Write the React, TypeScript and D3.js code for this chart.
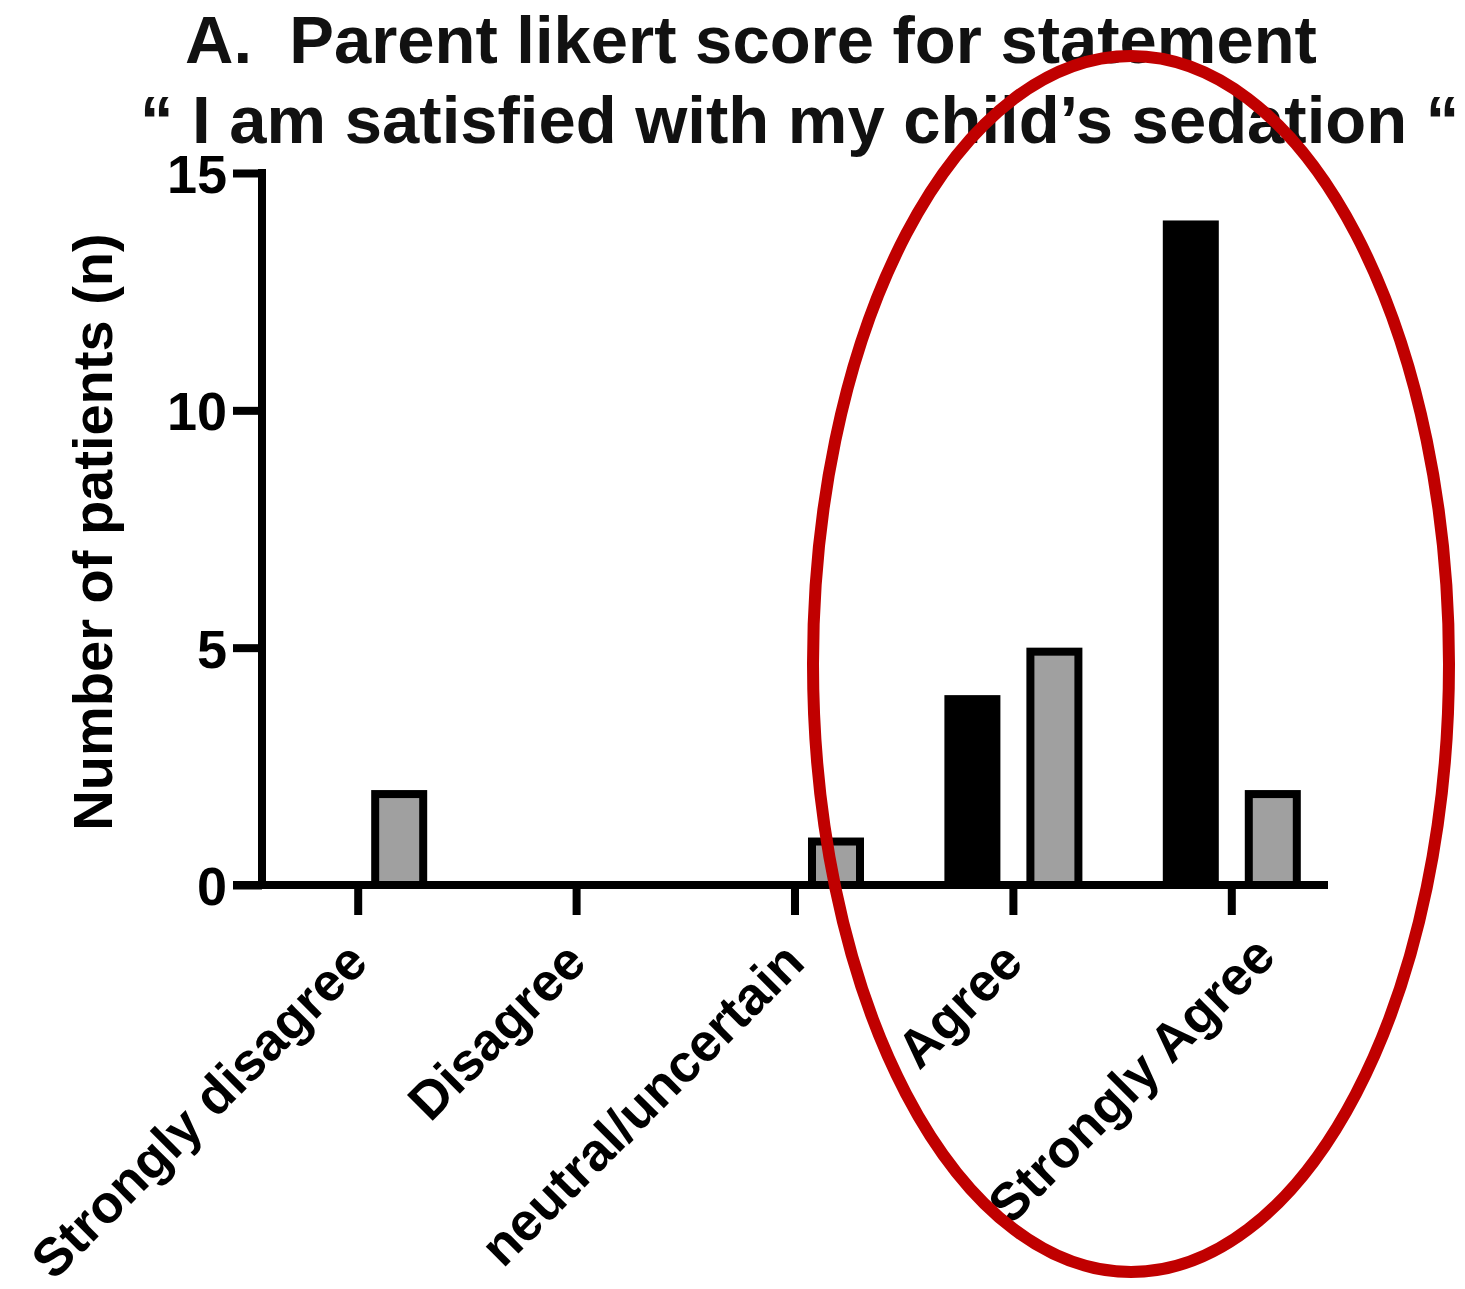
import { useEffect, useRef } from 'react';
import * as d3 from 'd3';

const categories = ['Strongly disagree', 'Disagree', 'neutral/uncertain', 'Agree', 'Strongly Agree'];
const series = ['black', 'gray'];
const blackValues = [0, 0, 0, 4, 14];
const grayValues = [2, 0, 1, 5, 2];
const yTicks = [0, 5, 10, 15];
const titleLines = ['A.  Parent likert score for statement', '\u201C I am satisfied with my child\u2019s sedation \u201C'];

const FONT = '"Liberation Sans", Arial, Helvetica, sans-serif';

export default function App() {
  const svgRef = useRef<SVGSVGElement>(null);

  useEffect(() => {
    if (!svgRef.current) return;
    const svg = d3.select(svgRef.current);
    svg.selectAll('*').remove();

    const width = 1465;
    const height = 1289;
    const axisX = 262;
    const stroke = 8;

    svg.attr('width', width).attr('height', height);

    // Scales
    const y = d3.scaleLinear().domain([0, 15]).range([885, 173]);
    const x0 = d3.scaleBand<string>().domain(categories).range([249, 1341]).padding(0);
    const groupWidth = 138;
    const x1 = d3.scaleBand<string>().domain(series).range([0, groupWidth]).paddingInner(0.317);

    const rows = categories.map((c, i) => ({ cat: c, values: [blackValues[i], grayValues[i]] }));

    // Bars
    const groups = svg.append('g')
      .selectAll('g')
      .data(rows)
      .enter()
      .append('g')
      .attr('transform', d => `translate(${(x0(d.cat) || 0) + x0.bandwidth() / 2 - groupWidth / 2}, 0)`);

    groups.selectAll('rect')
      .data(d => d.values.map((v, j) => ({ key: series[j], v })).filter(e => e.v > 0))
      .enter()
      .append('rect')
      .attr('x', d => (x1(d.key) || 0) + stroke / 2)
      .attr('width', x1.bandwidth() - stroke)
      .attr('y', d => y(d.v) + stroke / 2)
      .attr('height', d => y(0) - y(d.v) - stroke / 2)
      .attr('fill', d => (d.key === 'black' ? '#000' : '#a0a0a0'))
      .attr('stroke', '#000')
      .attr('stroke-width', stroke);

    // Y axis
    const yAxis = svg.append('g')
      .attr('transform', `translate(${axisX}, 0)`)
      .call(d3.axisLeft(y).tickValues(yTicks).tickSize(29).tickSizeOuter(0).tickPadding(6));
    yAxis.select('.domain').remove();
    yAxis.append('line')
      .attr('x1', 0).attr('x2', 0)
      .attr('y1', y(15) - stroke / 2).attr('y2', y(0))
      .attr('stroke', '#000').attr('stroke-width', stroke);
    yAxis.selectAll('.tick line').attr('stroke', '#000').attr('stroke-width', stroke);
    yAxis.selectAll('.tick text')
      .attr('fill', '#000')
      .style('font-family', FONT)
      .style('font-weight', 'bold')
      .style('font-size', '54px')
      .attr('dy', '0.36em');

    // X axis
    const xAxis = svg.append('g')
      .attr('transform', `translate(0, ${y(0)})`)
      .call(d3.axisBottom(x0).tickSize(30).tickSizeOuter(0).tickFormat(() => ''));
    xAxis.select('.domain').remove();
    xAxis.append('line')
      .attr('x1', 233).attr('x2', 1328)
      .attr('y1', 0).attr('y2', 0)
      .attr('stroke', '#000').attr('stroke-width', stroke);
    xAxis.selectAll('.tick line').attr('stroke', '#000').attr('stroke-width', stroke);

    // the last label sits a bit right of its tick in the original
    const nudge = (i: number) => (i === categories.length - 1 ? [34, -6] : [0, 0]);

    svg.append('g')
      .selectAll('text')
      .data(categories)
      .enter()
      .append('text')
      .attr('transform', (d, i) => {
        const [dx, dy] = nudge(i);
        return `translate(${(x0(d) || 0) + x0.bandwidth() / 2 + 12 + dx}, ${y(0) + 80 + dy}) rotate(-45)`;
      })
      .attr('text-anchor', 'end')
      .style('font-family', FONT)
      .style('font-weight', 'bold')
      .style('font-size', '53px')
      .attr('fill', '#000')
      .text(d => d);

    // Y label
    svg.append('text')
      .attr('transform', `translate(112, 532) rotate(-90)`)
      .attr('text-anchor', 'middle')
      .style('font-family', FONT)
      .style('font-weight', 'bold')
      .style('font-size', '56px')
      .attr('fill', '#000')
      .text('Number of patients (n)');

    // Title
    svg.append('g')
      .selectAll('text')
      .data(titleLines)
      .enter()
      .append('text')
      .attr('x', (_, i) => (i === 0 ? 185 : 140))
      .attr('y', (_, i) => (i === 0 ? 63 : 143))
      .style('font-family', FONT)
      .style('font-weight', 'bold')
      .style('font-size', '67px')
      .style('white-space', 'pre')
      .attr('fill', '#111')
      .text(d => d);

    // Red annotation ellipse
    svg.append('ellipse')
      .attr('cx', 1131)
      .attr('cy', 664)
      .attr('rx', 318)
      .attr('ry', 608)
      .attr('fill', 'none')
      .attr('stroke', '#c00000')
      .attr('stroke-width', 12);
  }, []);

  return (
    <div style={{ position: 'absolute', left: 0, top: 0, background: '#fff' }}>
      <svg ref={svgRef}></svg>
    </div>
  );
}
